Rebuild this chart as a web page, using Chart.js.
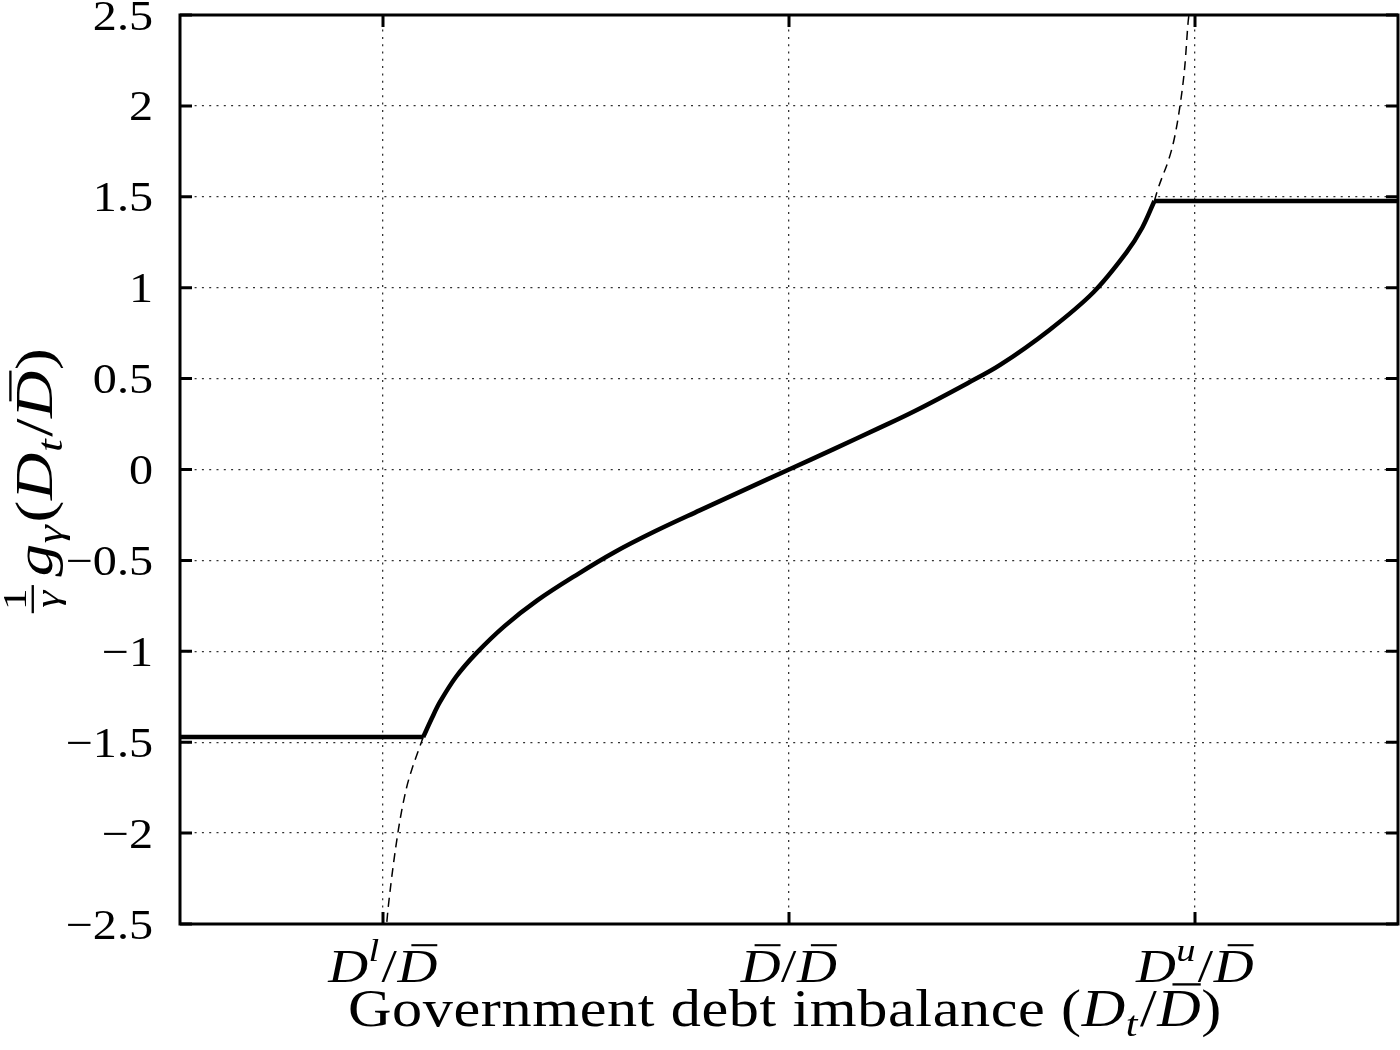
<!DOCTYPE html>
<html>
<head>
<meta charset="utf-8">
<script src="https://cdn.jsdelivr.net/npm/chart.js"></script>
<style>
  html, body { margin: 0; padding: 0; background: #fff; }
  canvas { display: block; }
</style>
</head>
<body>
<canvas id="chart" width="1400" height="1050"></canvas>
<script>
// ---- data (x: debt ratio in tick units, y: (1/γ) g_γ) ----
const xTickValues = [-1, 0, 1];
const xTickLabels = ['$D^l/D\u0304$', '$D\u0304/D\u0304$', '$D^u/D\u0304$'];
const yTickValues = [-2.5, -2, -1.5, -1, -0.5, 0, 0.5, 1, 1.5, 2, 2.5];
const yTickLabels = ['\u22122.5', '\u22122', '\u22121.5', '\u22121', '\u22120.5', '0', '0.5', '1', '1.5', '2', '2.5'];

const flatLeftX = [-1.5, -0.901];
const flatLeftY = [-1.472, -1.472];
const curveX = [-0.901, -0.88, -0.86, -0.82, -0.77, -0.70, -0.62, -0.52, -0.43, -0.33, -0.22, -0.11, 0,
  0.11, 0.22, 0.31, 0.44, 0.52, 0.64, 0.75, 0.83, 0.87, 0.90];
const curveY = [-1.472, -1.37, -1.28, -1.14, -1.01, -0.86, -0.72, -0.575, -0.455, -0.34, -0.225, -0.112, 0,
  0.112, 0.226, 0.322, 0.475, 0.575, 0.765, 0.975, 1.19, 1.33, 1.477];
const flatRightX = [0.90, 1.5];
const flatRightY = [1.477, 1.477];
const dashLowX = [-0.901, -0.915, -0.929, -0.943, -0.962, -0.987, -0.991];
const dashLowY = [-1.472, -1.56, -1.65, -1.76, -1.98, -2.405, -2.5];
const dashHighX = [0.90, 0.906, 0.947, 0.963, 0.975, 0.983, 0.985];
const dashHighY = [1.477, 1.524, 1.80, 2.0, 2.22, 2.46, 2.5];

const xTitle = 'Government debt imbalance ($D_t/D\u0304$)';
const yTitle = '${1|γ}g_γ(D_t/D\u0304)$';

const FAMILY = '"Liberation Serif", "DejaVu Serif", serif';

const pts = (xs, ys) => xs.map((x, i) => ({ x: x, y: ys[i] }));

// ---- tiny math-ish text: $..$ italic letters, ^x sup, _x sub, combining macron, {a|b} fraction ----
function parseRich(str) {
  const parts = [];
  let math = false;
  for (let i = 0; i < str.length; i++) {
    const c = str[i];
    if (c === '$') { math = !math; continue; }
    if (c === '{') {
      const j = str.indexOf('}', i);
      parts.push({ frac: str.slice(i + 1, j).split('|') });
      i = j;
      continue;
    }
    if (c === '^' || c === '_') {
      const n = str[i + 1];
      parts.push({ t: n, it: math && /[A-Za-zγ]/.test(n), pos: c === '^' ? 'sup' : 'sub' });
      i++;
      continue;
    }
    if (c === '\u0304') { parts[parts.length - 1].bar = true; continue; }
    parts.push({ t: c, it: math && /[A-Za-zγ]/.test(c) });
  }
  return parts;
}

function fontOf(size, it) {
  return (it ? 'italic ' : '') + size + 'px ' + FAMILY;
}

function layoutRich(ctx, parts, S) {
  const items = [];
  let x = 0;
  parts.forEach(p => {
    if (p.frac) {
      const fs = 0.66 * S;
      ctx.font = fontOf(fs, false);
      const wn = ctx.measureText(p.frac[0]).width;
      ctx.font = fontOf(fs, true);
      const wd = ctx.measureText(p.frac[1]).width;
      const w = Math.max(wn, wd) + 0.2 * S;
      items.push({ frac: p.frac, x: x, w: w, wn: wn, wd: wd, fs: fs });
      x += w + 0.08 * S;
      return;
    }
    const fs = p.pos ? 0.7 * S : S;
    ctx.font = fontOf(fs, p.it);
    const w = ctx.measureText(p.t).width;
    const dy = p.pos === 'sup' ? -0.45 * S : (p.pos === 'sub' ? 0.2 * S : 0);
    items.push({ p: p, x: x, w: w, fs: fs, dy: dy });
    x += w + (p.pos ? 0.04 * S : 0.01 * S);
  });
  return { items: items, width: x };
}

function drawRich(ctx, str, x, y, S, align, opts) {
  opts = opts || {};
  const L = layoutRich(ctx, parseRich(str), S);
  ctx.save();
  ctx.translate(x, y);
  if (opts.rotate) ctx.rotate(-Math.PI / 2);
  const sx = opts.fit ? opts.fit / L.width : (opts.hs || 1);
  ctx.scale(sx, 1);
  const x0 = align === 'center' ? -L.width / 2 : (align === 'right' ? -L.width : 0);
  ctx.fillStyle = '#000';
  ctx.strokeStyle = '#000';
  ctx.textAlign = 'left';
  ctx.textBaseline = 'alphabetic';
  L.items.forEach(it => {
    if (it.frac) {
      const cx = x0 + it.x + it.w / 2;
      ctx.font = fontOf(it.fs, false);
      ctx.fillText(it.frac[0], cx - it.wn / 2, -0.5 * S);
      ctx.font = fontOf(it.fs, true);
      ctx.fillText(it.frac[1], cx - it.wd / 2, 0.13 * S);
      ctx.lineWidth = 0.045 * S;
      ctx.beginPath();
      ctx.moveTo(x0 + it.x + 0.05 * S, -0.37 * S);
      ctx.lineTo(x0 + it.x + it.w - 0.05 * S, -0.37 * S);
      ctx.stroke();
      return;
    }
    ctx.font = fontOf(it.fs, it.p.it);
    ctx.fillText(it.p.t, x0 + it.x, it.dy);
    if (it.p.bar) {
      ctx.lineWidth = 0.045 * S;
      ctx.beginPath();
      ctx.moveTo(x0 + it.x + 0.35 * it.w, -0.8 * S);
      ctx.lineTo(x0 + it.x + 1.0 * it.w, -0.8 * S);
      ctx.stroke();
    }
  });
  ctx.restore();
}

// ---- frame, inward ticks, tick labels and titles ----
const framePlugin = {
  id: 'frame',
  afterDraw(chart) {
    const ctx = chart.ctx;
    const a = chart.chartArea;
    const xs = chart.scales.x;
    const ys = chart.scales.y;
    ctx.save();
    ctx.strokeStyle = '#000';
    ctx.lineWidth = 3;
    ctx.strokeRect(a.left, a.top, a.right - a.left, a.bottom - a.top);

    const tl = 12;
    ctx.beginPath();
    xTickValues.forEach(v => {
      const px = xs.getPixelForValue(v);
      ctx.moveTo(px, a.bottom); ctx.lineTo(px, a.bottom - tl);
      ctx.moveTo(px, a.top); ctx.lineTo(px, a.top + tl);
    });
    yTickValues.forEach(v => {
      const py = ys.getPixelForValue(v);
      ctx.moveTo(a.left, py); ctx.lineTo(a.left + tl, py);
      ctx.moveTo(a.right, py); ctx.lineTo(a.right - tl, py);
    });
    ctx.stroke();

    // y tick labels (a little wider, like the original serif)
    ctx.fillStyle = '#000';
    ctx.font = '43px ' + FAMILY;
    ctx.textAlign = 'right';
    ctx.textBaseline = 'alphabetic';
    yTickValues.forEach((v, i) => {
      const py = ys.getPixelForValue(v);
      ctx.save();
      ctx.translate(a.left - 27, py + 14.5);
      ctx.scale(1.12, 1);
      ctx.fillText(yTickLabels[i], 0, 0);
      ctx.restore();
    });

    // x tick labels
    xTickValues.forEach((v, i) => {
      drawRich(ctx, xTickLabels[i], xs.getPixelForValue(v), a.bottom + 58, 46, 'center', { hs: 1.2 });
    });

    // axis titles
    drawRich(ctx, xTitle, 785, a.bottom + 102, 52, 'center', { fit: 874 });
    drawRich(ctx, yTitle, 52, 482, 52, 'center', { rotate: true, fit: 269 });
    ctx.restore();
  }
};

const solidStyle = {
  borderColor: '#000',
  borderWidth: 4.5,
  pointRadius: 0,
  fill: false,
  borderJoinStyle: 'round'
};
const dashStyle = {
  borderColor: '#000',
  borderWidth: 1.5,
  borderDash: [9, 6],
  pointRadius: 0,
  fill: false,
  cubicInterpolationMode: 'monotone'
};

new Chart(document.getElementById('chart'), {
  type: 'line',
  data: {
    datasets: [
      Object.assign({ label: 'g lower bound', data: pts(flatLeftX, flatLeftY) }, solidStyle),
      Object.assign({ label: 'g', data: pts(curveX, curveY), tension: 0.35 }, solidStyle),
      Object.assign({ label: 'g upper bound', data: pts(flatRightX, flatRightY) }, solidStyle),
      Object.assign({ label: 'unbounded lower', data: pts(dashLowX, dashLowY) }, dashStyle),
      Object.assign({ label: 'unbounded upper', data: pts(dashHighX, dashHighY) }, dashStyle)
    ]
  },
  options: {
    responsive: false,
    animation: false,
    devicePixelRatio: 1,
    layout: { padding: { left: 180, top: 15, right: 2, bottom: 126 } },
    plugins: {
      legend: { display: false },
      tooltip: { enabled: false }
    },
    scales: {
      x: {
        type: 'linear',
        min: -1.5,
        max: 1.5,
        afterBuildTicks: s => { s.ticks = xTickValues.map(v => ({ value: v })); },
        ticks: { display: false },
        grid: { color: '#333', lineWidth: 1.3, drawTicks: false },
        border: { display: false, dash: [2, 5.3] }
      },
      y: {
        type: 'linear',
        min: -2.5,
        max: 2.5,
        afterBuildTicks: s => { s.ticks = yTickValues.map(v => ({ value: v })); },
        ticks: { display: false },
        grid: { color: '#333', lineWidth: 1.3, drawTicks: false },
        border: { display: false, dash: [2, 5.3] }
      }
    }
  },
  plugins: [framePlugin]
});
</script>
</body>
</html>
